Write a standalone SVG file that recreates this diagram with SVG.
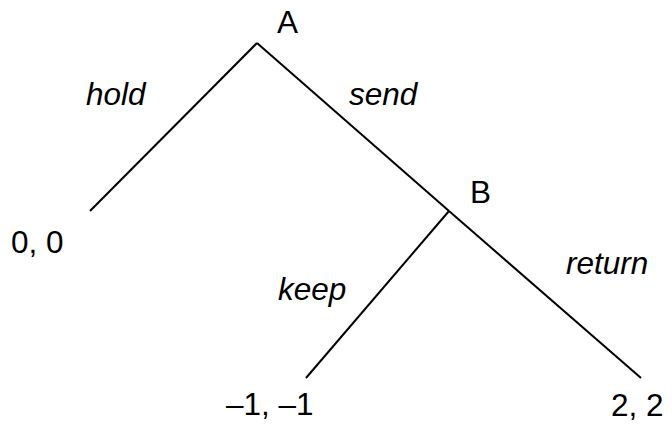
<svg xmlns="http://www.w3.org/2000/svg" width="672" height="429" viewBox="0 0 672 429">
<style>
text{font-family:"Liberation Sans",Arial,sans-serif;font-size:31.5px;fill:#000}
.i{font-style:italic}
.e{stroke:#000;stroke-width:2;fill:none;stroke-linecap:butt}
</style>
<rect width="672" height="429" fill="#fff"/>
<g id="connectors">
<line class="e" x1="257" y1="43" x2="90" y2="211"/>
<line class="e" x1="257" y1="43" x2="449" y2="211"/>
<line class="e" x1="449" y1="211" x2="641" y2="378"/>
<line class="e" x1="449" y1="211" x2="306" y2="378"/>
<text class="i" x="86" y="105">hold</text>
<text class="i" x="349" y="105">send</text>
<text class="i" x="278" y="300">keep</text>
<text class="i" x="566" y="274">return</text>
</g>
<g id="A"><text x="277" y="33">A</text></g>
<g id="B"><text x="470" y="203">B</text></g>
<g id="leaf1"><text x="11" y="253">0, 0</text></g>
<g id="leaf2"><text x="226" y="415">–1, –1</text></g>
<g id="leaf3"><text x="611" y="416">2, 2</text></g>
</svg>
